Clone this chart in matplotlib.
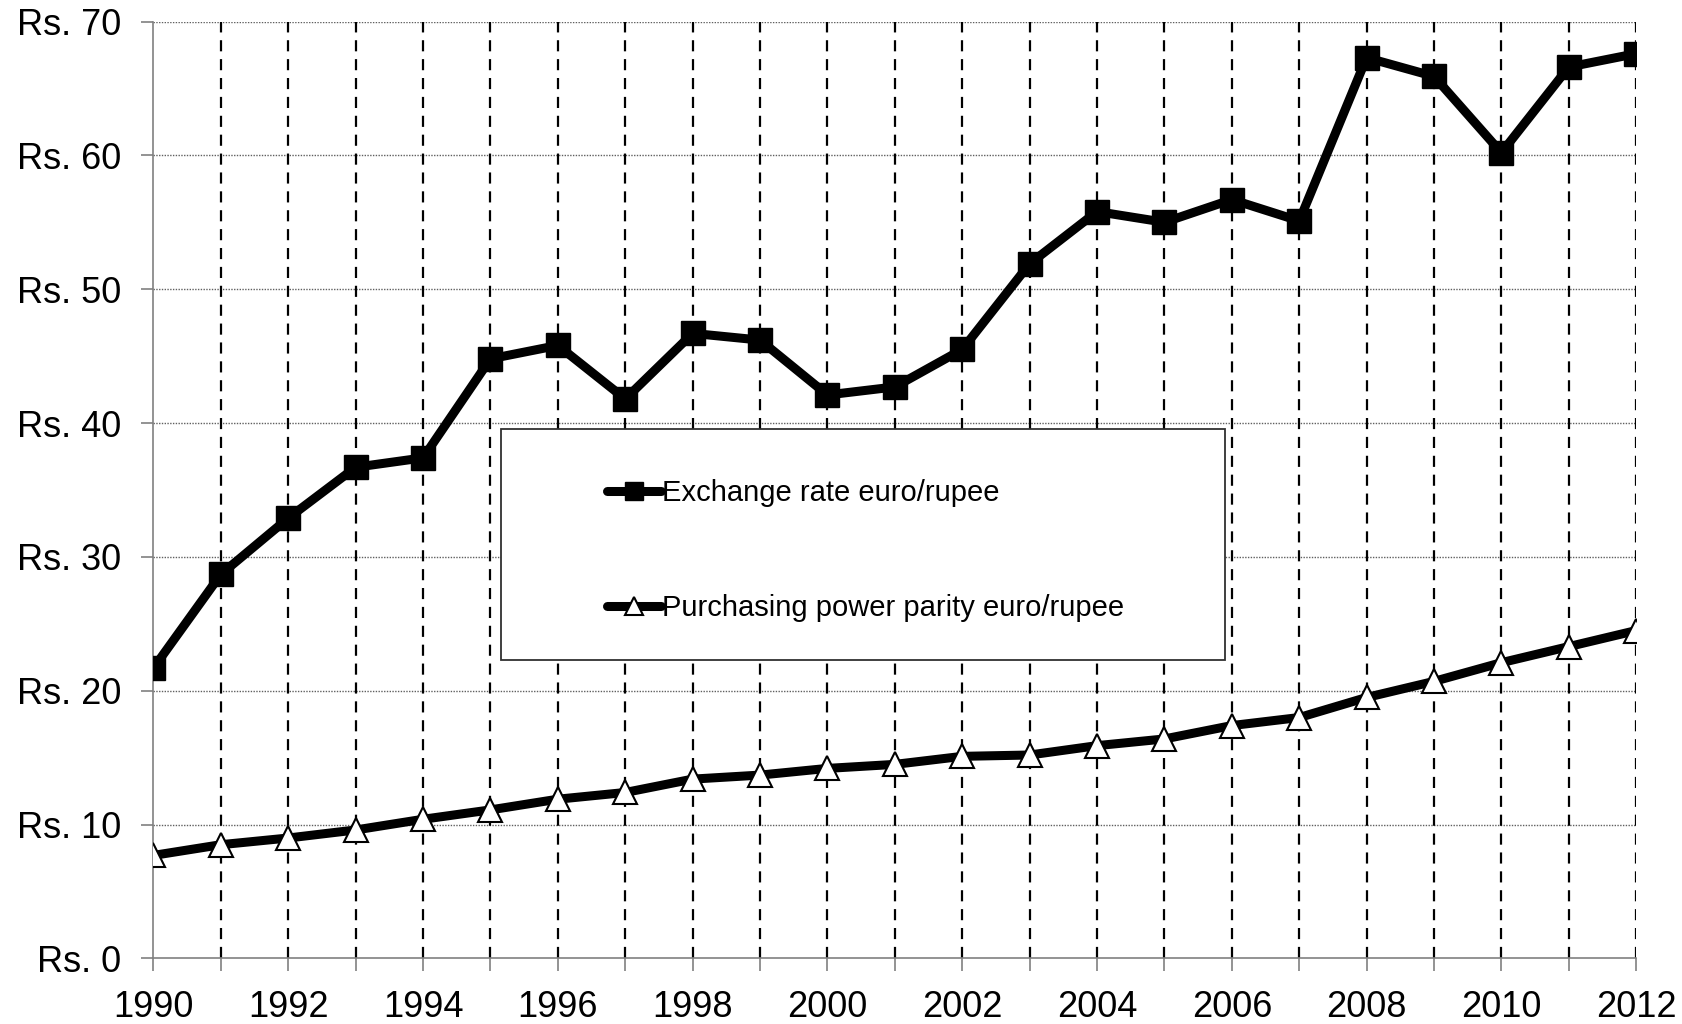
import numpy as np
import matplotlib
matplotlib.use('Agg')
import matplotlib.pyplot as plt
from matplotlib.patches import Rectangle

plt.rcParams['font.family'] = ['Liberation Sans', 'DejaVu Sans']

# 데이터
years = list(range(1990, 2013))
exchange_rate = [21.7, 28.7, 32.9, 36.7, 37.4, 44.8, 45.8, 41.8, 46.7, 46.2,
                 42.1, 42.7, 45.5, 51.9, 55.8, 55.0, 56.7, 55.1, 67.3, 65.9,
                 60.2, 66.6, 67.6]
ppp = [7.7, 8.5, 9.0, 9.6, 10.4, 11.1, 11.9, 12.4, 13.4, 13.7,
       14.2, 14.5, 15.1, 15.2, 15.9, 16.4, 17.4, 18.0, 19.5, 20.7,
       22.1, 23.3, 24.5]
y_ticks = list(range(0, 71, 10))
y_labels = ['Rs. %d' % v for v in y_ticks]
x_ticks = list(range(1990, 2013, 2))

fig = plt.figure(figsize=(16.83, 10.24), dpi=100)
ax = fig.add_axes([0.0912, 0.064, 0.881, 0.915])

# 그리드
for v in y_ticks[1:]:
    ax.axhline(v, color='#606060', linestyle=(0, (1, 1)), linewidth=1.0, zorder=1)
for yr in years[1:]:
    ax.axvline(yr, color='black', linestyle=(0, (5, 3.5)), linewidth=1.6, zorder=1)

ax.plot(years, exchange_rate, color='black', linewidth=6.5, marker='s',
        markersize=17, markerfacecolor='black', markeredgecolor='black',
        solid_capstyle='round', label='Exchange rate euro/rupee', zorder=3)
ax.plot(years, ppp, color='black', linewidth=6.5, marker='^',
        markersize=17, markerfacecolor='white', markeredgecolor='black',
        markeredgewidth=1.5, solid_capstyle='round',
        label='Purchasing power parity euro/rupee', zorder=3)

ax.set_xlim(1990, 2012)
ax.set_ylim(0, 70)
ax.set_yticks(y_ticks)
ax.set_yticklabels(y_labels)
ax.set_xticks(years)
ax.set_xticklabels([str(y) if y in x_ticks else '' for y in years])
ax.tick_params(axis='both', labelsize=26, color='#808080', direction='out',
               length=9, width=1.2)
ax.tick_params(axis='y', pad=14)
ax.tick_params(axis='x', pad=14)

for side in ['top', 'right']:
    ax.spines[side].set_visible(False)
for side in ['left', 'bottom']:
    ax.spines[side].set_color('#808080')
    ax.spines[side].set_linewidth(1.2)

# 범례 테두리 상자
box = Rectangle((0.2346, 0.3184), 0.4881, 0.2463, transform=ax.transAxes,
                facecolor='white', edgecolor='#303030', linewidth=1.3, zorder=4)
ax.add_patch(box)

leg = ax.legend(loc='upper left', bbox_to_anchor=(0.3056, 0.512),
                frameon=False, fontsize=21, handlelength=1.85,
                handletextpad=0.05, labelspacing=3.0, borderpad=0,
                borderaxespad=0, markerscale=0.8)
leg.set_zorder(5)

fig.savefig('out.png', dpi=100)
